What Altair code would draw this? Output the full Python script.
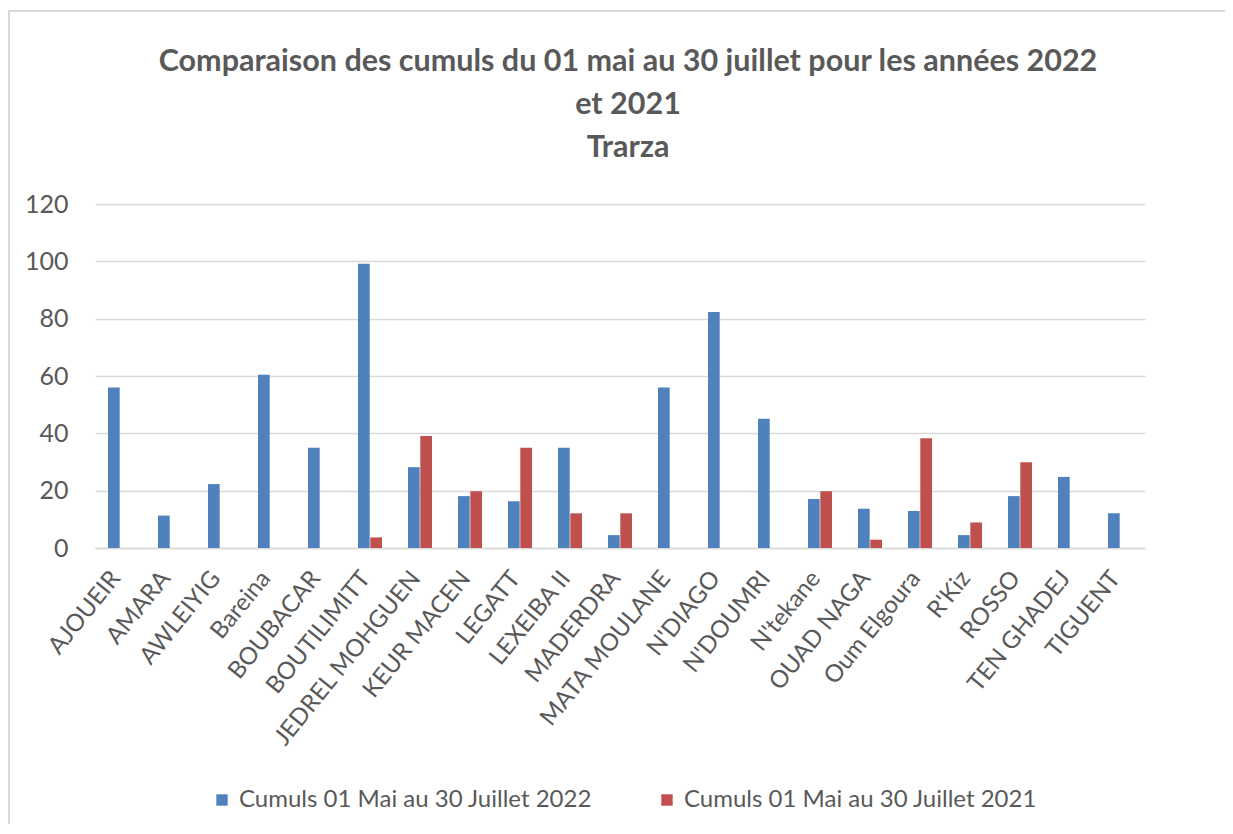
import altair as alt
import pandas as pd

communes = ["AJOUEIR", "AMARA", "AWLEIYIG", "Bareina", "BOUBACAR", "BOUTILIMITT",
            "JEDREL MOHGUEN", "KEUR MACEN", "LEGATT", "LEXEIBA II", "MADERDRA",
            "MATA MOULANE", "N'DIAGO", "N'DOUMRI", "N'tekane", "OUAD NAGA",
            "Oum Elgoura", "R'Kiz", "ROSSO", "TEN GHADEJ", "TIGUENT"]
cumul_2022 = [56, 11.3, 22.3, 60.4, 35, 99.2, 28.2, 18.1, 16.3, 35, 4.5,
              56, 82.3, 45.1, 17.1, 13.7, 12.9, 4.5, 18.1, 24.8, 12.1]
cumul_2021 = [0, 0, 0, 0, 0, 3.7, 39.1, 19.8, 35, 12.1, 12.1,
              0, 0, 0, 19.8, 2.9, 38.3, 8.9, 29.9, 0, 0]
series_names = ["Cumuls 01 Mai au 30 Juillet 2022", "Cumuls 01 Mai au 30 Juillet 2021"]
series_colors = ["#4F81BD", "#C0504D"]

rows = []
for c, a, b in zip(communes, cumul_2022, cumul_2021):
    rows.append({"commune": c, "serie": series_names[0], "valeur": a})
    rows.append({"commune": c, "serie": series_names[1], "valeur": b})
df = pd.DataFrame(rows)

FONT = "Lato"
GREY = "#595959"

bars = alt.Chart(df).mark_bar(strokeWidth=0).encode(
    x=alt.X("commune:N", sort=communes, title=None,
            scale=alt.Scale(paddingInner=0.52, paddingOuter=0.26),
            axis=alt.Axis(labelAngle=-51, labelFontSize=24, labelColor=GREY,
                          labelFont=FONT, domainColor="#d9d9d9", domainWidth=1.5,
                          ticks=False, labelPadding=26, labelOffset=-4,
                          labelLimit=0)),
    xOffset=alt.XOffset("serie:N", sort=series_names,
                        scale=alt.Scale(paddingInner=0.05)),
    y=alt.Y("valeur:Q", title=None,
            scale=alt.Scale(domain=[0, 120]),
            axis=alt.Axis(values=[0, 20, 40, 60, 80, 100, 120], labelFontSize=25,
                          labelColor=GREY, labelFont=FONT, domain=False, ticks=False,
                          labelPadding=27, gridColor="#d9d9d9", gridWidth=1.5)),
    color=alt.Color("serie:N", sort=series_names,
                    scale=alt.Scale(domain=series_names, range=series_colors),
                    legend=alt.Legend(title=None, orient="none", direction="horizontal",
                                      legendX=115, legendY=584, symbolType="square",
                                      symbolSize=130, symbolStrokeWidth=0,
                                      labelFontSize=24, labelColor=GREY, labelFont=FONT,
                                      labelLimit=0, columnPadding=62, labelOffset=5)),
)

frame_data = pd.DataFrame({"k": [0]})
frame_left = alt.Chart(frame_data).mark_rule(stroke="#d9d9d9", strokeWidth=2).encode(
    x=alt.value(-86), y=alt.value(-193), y2=alt.value(700),
)
frame_top = alt.Chart(frame_data).mark_rule(stroke="#d9d9d9", strokeWidth=2).encode(
    x=alt.value(-87), x2=alt.value(1200), y=alt.value(-193),
)

chart = alt.layer(frame_left, frame_top, bars).properties(
    width=1050,
    height=344,
    autosize=alt.AutoSizeParams(type="none"),
    padding={"left": 87, "top": 196, "right": 80, "bottom": 276},
    title=alt.Title(
        ["Comparaison des cumuls du 01 mai au 30  juillet pour les années 2022",
         "et 2021", "Trarza"],
        fontSize=30.5, font=FONT, fontWeight="bold", color=GREY,
        lineHeight=43, offset=-153, anchor="middle", dx=8, frame="group",
    ),
).configure(background="white").configure_view(strokeWidth=0)

chart.save("out.html", embed_options={"renderer": "svg", "actions": False})
